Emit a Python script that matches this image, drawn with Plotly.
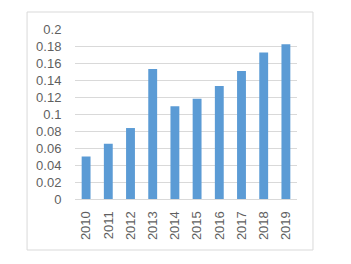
import plotly.graph_objects as go

years = ["2010", "2011", "2012", "2013", "2014", "2015", "2016", "2017", "2018", "2019"]
values = [0.050, 0.065, 0.0835, 0.153, 0.109, 0.118, 0.133, 0.1505, 0.1725, 0.182]
y_ticks = [0, 0.02, 0.04, 0.06, 0.08, 0.1, 0.12, 0.14, 0.16, 0.18, 0.2]
y_tick_labels = ["0", "0.02", "0.04", "0.06", "0.08", "0.1", "0.12", "0.14", "0.16", "0.18", "0.2"]

fig = go.Figure()
fig.add_trace(go.Bar(x=years, y=values, marker=dict(color="#5b9bd5", line=dict(width=0))))

font = dict(family="Liberation Sans, Arial, sans-serif", size=13, color="#5f5f5f")

fig.update_layout(
    width=343, height=256,
    margin=dict(l=67, r=54, t=21, b=65),
    paper_bgcolor="white", plot_bgcolor="white",
    bargap=0.6,
    showlegend=False,
    font=font,
    xaxis=dict(
        type="category", tickangle=-90, showgrid=False,
        showline=True, linecolor="#d9d9d9", linewidth=1,
        ticks="outside", ticklen=6, tickcolor="rgba(0,0,0,0)",
        tickfont=font,
    ),
    yaxis=dict(
        range=[0, 0.2], tickvals=y_ticks, ticktext=y_tick_labels,
        showgrid=True, gridcolor="#d9d9d9", gridwidth=1,
        zeroline=False, showline=False,
        ticks="outside", ticklen=10, tickcolor="rgba(0,0,0,0)",
        tickfont=font,
    ),
    shapes=[dict(
        type="rect", xref="paper", yref="paper",
        x0=-0.216, x1=1.072, y0=-0.3, y1=1.1,
        line=dict(color="#d9d9d9", width=1), fillcolor="rgba(0,0,0,0)",
        layer="below",
    )],
)

fig.write_html("out.html")
